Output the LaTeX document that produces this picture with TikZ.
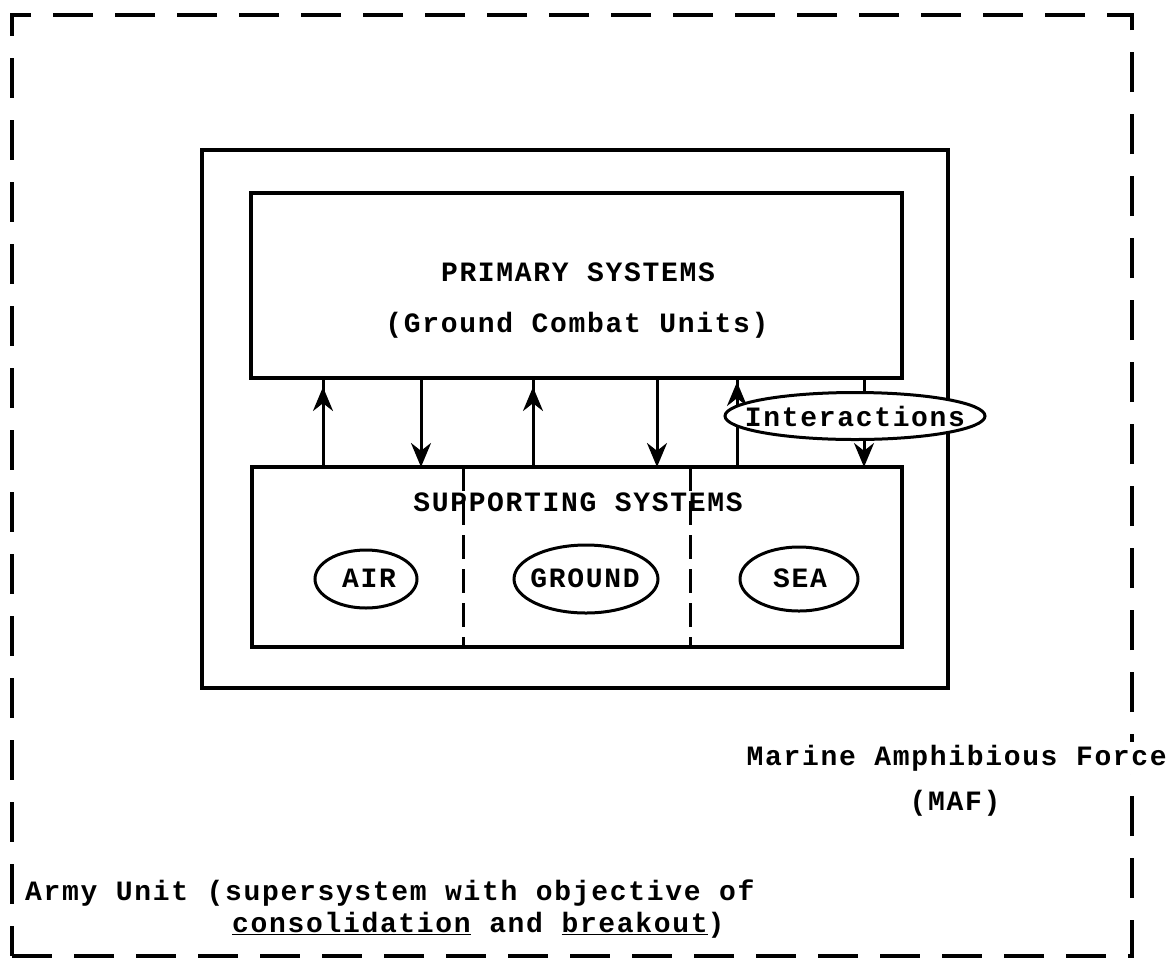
\documentclass[tikz,border=0pt]{standalone}
\usepackage{fontspec}
\newfontfamily\tw{Liberation Mono}[LetterSpace=6]
\usetikzlibrary{arrows.meta,shapes.geometric}
\begin{document}
\begin{tikzpicture}[x=1pt,y=-1pt,
  box/.style={draw, rectangle, line width=4pt, inner sep=0pt, outer sep=0pt},
  twtext/.style={font={\tw\bfseries\fontsize{28}{32}\selectfont}, inner sep=0pt},
  oval/.style={draw, ellipse, line width=3pt, inner sep=0pt, fill=white},
  conn/.style={line width=3pt},
  arr/.style={conn, -{Stealth[length=24pt,width=20pt]}},
  divider/.style={line width=3pt, dash pattern=on 24pt off 10pt}]
\useasboundingbox (0,0) rectangle (1169,962);
% boxes
\node[box, dash pattern=on 40pt off 22pt, minimum width=1120pt, minimum height=941pt] (army) at (572,485.5) {};
\node[box, minimum width=746pt, minimum height=538pt] (maf) at (575,419) {};
\node[box, minimum width=651pt, minimum height=185pt] (primary) at (576.5,285.5) {};
\node[box, minimum width=650pt, minimum height=180pt] (supporting) at (577,557) {};
% dividers
\coordinate (d1) at (463,0);
\coordinate (d2) at (690,0);
\draw[divider] (d1 |- supporting.north) -- (d1 |- supporting.south);
\draw[divider] (d2 |- supporting.north) -- (d2 |- supporting.south);
% texts in boxes
\node[twtext] (primtitle) at (578,272) {PRIMARY SYSTEMS};
\node[twtext] (primsub) at (577,325) {(Ground Combat Units)};
\node[twtext] (supptitle) at (578,502) {SUPPORTING SYSTEMS};
% arrows
\coordinate (a1) at (323,0);
\coordinate (a2) at (421,0);
\coordinate (a3) at (533,0);
\coordinate (a4) at (657,0);
\coordinate (a5) at (737,0);
\coordinate (a6) at (864,0);
\draw[conn] (a1 |- supporting.north) -- (a1 |- primary.south);
\draw[arr, shorten >=9pt] (a1 |- supporting.north) -- (a1 |- primary.south);
\draw[arr] (a2 |- primary.south) -- (a2 |- supporting.north);
\draw[conn] (a3 |- supporting.north) -- (a3 |- primary.south);
\draw[arr, shorten >=9pt] (a3 |- supporting.north) -- (a3 |- primary.south);
\draw[arr] (a4 |- primary.south) -- (a4 |- supporting.north);
\draw[conn] (a5 |- supporting.north) -- (a5 |- primary.south);
\draw[arr, shorten >=4pt] (a5 |- supporting.north) -- (a5 |- primary.south);
\draw[arr] (a6 |- primary.south) -- (a6 |- supporting.north);
% interactions
\node[oval, minimum width=260pt, minimum height=47pt] (inter) at (855,416) {};
\node[twtext] (intertext) at (inter.center) {Interactions};
% subsystems
\node[oval, minimum width=102pt, minimum height=58pt] (air) at (366,579) {};
\node[twtext] (airtext) at (369,578) {AIR};
\node[oval, minimum width=144pt, minimum height=68pt] (ground) at (586,579) {};
\node[twtext] (groundtext) at (585,578) {GROUND};
\node[oval, minimum width=118pt, minimum height=64pt] (sea) at (799,579) {};
\node[twtext] (seatext) at (800,578) {SEA};
% labels
\node[twtext, anchor=east, fill=white, inner xsep=1pt, inner ysep=3pt] (maftext) at (1168,758) {Marine Amphibious Force};
\node[twtext] (mafabbr) at (955,803) {(MAF)};
\node[twtext, anchor=west] (armytext) at (25,893) {Army Unit (supersystem with objective of};
\node[twtext, anchor=west] (armytext2) at (232,925) {\underline{consolidation} and \underline{breakout})};
\end{tikzpicture}
\end{document}
